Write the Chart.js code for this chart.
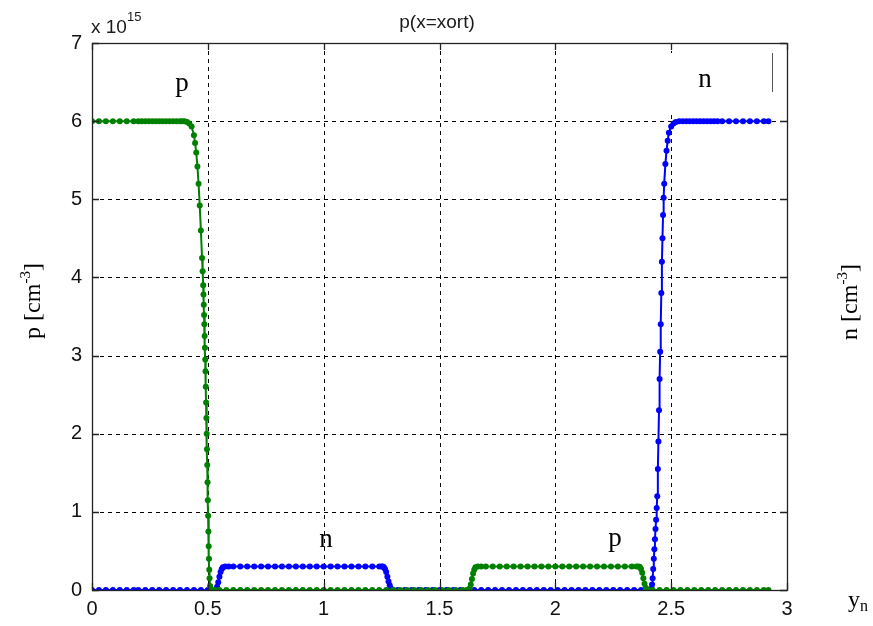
<!DOCTYPE html>
<html>
<head>
<meta charset="utf-8">
<script src="https://cdn.jsdelivr.net/npm/chart.js@4"></script>
<style>
  html, body { margin: 0; padding: 0; background: #ffffff; }
  #c { display: block; }
</style>
</head>
<body>
<canvas id="c" width="873" height="626"></canvas>
<script>
// Tick values for both axes (density axis in units of 1e15 cm^-3)
const xTicks = [0, 0.5, 1, 1.5, 2, 2.5, 3];
const yTicks = [0, 1, 2, 3, 4, 5, 6, 7];

// Hole density p along the cut x = xort: [position, p / 1e15]
const holeProfile = [
  [0, 6.0], [0.03, 6.0], [0.06, 6.0], [0.09, 6.0], [0.12, 6.0], [0.15, 6.0], [0.18, 6.0],
  [0.20, 6.0], [0.215, 6.0], [0.23, 6.0], [0.245, 6.0], [0.26, 6.0], [0.275, 6.0], [0.29, 6.0],
  [0.305, 6.0], [0.32, 6.0], [0.335, 6.0], [0.35, 6.0], [0.365, 6.0], [0.38, 6.0], [0.39, 6.0],
  [0.40, 6.0], [0.41, 5.99], [0.42, 5.97], [0.43, 5.93], [0.44, 5.82], [0.445, 5.72], [0.45, 5.60],
  [0.455, 5.42], [0.46, 5.20], [0.465, 4.92], [0.47, 4.60], [0.475, 4.25], [0.4775, 4.08],
  [0.48, 3.90], [0.4812, 3.78], [0.4825, 3.65], [0.4838, 3.52], [0.485, 3.40], [0.4862, 3.25],
  [0.4875, 3.10], [0.4888, 2.95], [0.49, 2.80], [0.4912, 2.60], [0.4925, 2.40], [0.4938, 2.20],
  [0.495, 2.00], [0.4962, 1.80], [0.4975, 1.60], [0.4988, 1.38], [0.50, 1.15], [0.5012, 0.95],
  [0.5025, 0.75], [0.5038, 0.56], [0.505, 0.40], [0.5062, 0.26], [0.5075, 0.15], [0.51, 0.05],
  [0.515, 0.01], [0.52, 0], [0.53, 0], [0.55, 0], [0.58, 0], [0.61, 0], [0.64, 0], [0.67, 0],
  [0.70, 0], [0.73, 0], [0.76, 0], [0.79, 0], [0.82, 0], [0.85, 0], [0.88, 0], [0.91, 0],
  [0.94, 0], [0.97, 0], [1.00, 0], [1.03, 0], [1.06, 0], [1.09, 0], [1.12, 0], [1.15, 0],
  [1.18, 0], [1.21, 0], [1.24, 0], [1.27, 0], [1.30, 0], [1.33, 0], [1.36, 0], [1.39, 0],
  [1.42, 0], [1.45, 0], [1.48, 0], [1.51, 0], [1.54, 0], [1.57, 0], [1.60, 0], [1.62, 0],
  [1.625, 0], [1.63, 0.02], [1.635, 0.07], [1.64, 0.14], [1.645, 0.21], [1.65, 0.26],
  [1.655, 0.29], [1.665, 0.30], [1.68, 0.30], [1.70, 0.30], [1.73, 0.30], [1.76, 0.30],
  [1.79, 0.30], [1.82, 0.30], [1.85, 0.30], [1.88, 0.30], [1.91, 0.30], [1.94, 0.30],
  [1.97, 0.30], [2.00, 0.30], [2.03, 0.30], [2.06, 0.30], [2.09, 0.30], [2.12, 0.30],
  [2.15, 0.30], [2.18, 0.30], [2.21, 0.30], [2.24, 0.30], [2.27, 0.30], [2.30, 0.30],
  [2.33, 0.30], [2.35, 0.30], [2.36, 0.30], [2.365, 0.295], [2.37, 0.27], [2.375, 0.22],
  [2.38, 0.15], [2.385, 0.08], [2.39, 0.03], [2.395, 0.01], [2.40, 0], [2.42, 0], [2.45, 0],
  [2.48, 0], [2.51, 0], [2.54, 0], [2.57, 0], [2.60, 0], [2.63, 0], [2.66, 0], [2.69, 0],
  [2.72, 0], [2.75, 0], [2.78, 0], [2.81, 0], [2.84, 0], [2.87, 0], [2.90, 0], [2.92, 0]
];

// Electron density n along the same cut: [position, n / 1e15]
const electronProfile = [
  [0, 0], [0.03, 0], [0.06, 0], [0.09, 0], [0.12, 0], [0.15, 0], [0.18, 0], [0.20, 0],
  [0.23, 0], [0.26, 0], [0.29, 0], [0.32, 0], [0.35, 0], [0.38, 0], [0.41, 0], [0.44, 0],
  [0.47, 0], [0.50, 0], [0.52, 0], [0.53, 0], [0.535, 0.01], [0.54, 0.04], [0.545, 0.10],
  [0.55, 0.17], [0.555, 0.23], [0.56, 0.27], [0.565, 0.29], [0.575, 0.30], [0.59, 0.30],
  [0.61, 0.30], [0.64, 0.30], [0.67, 0.30], [0.70, 0.30], [0.73, 0.30], [0.76, 0.30],
  [0.79, 0.30], [0.82, 0.30], [0.85, 0.30], [0.88, 0.30], [0.91, 0.30], [0.94, 0.30],
  [0.97, 0.30], [1.00, 0.30], [1.03, 0.30], [1.06, 0.30], [1.09, 0.30], [1.12, 0.30],
  [1.15, 0.30], [1.18, 0.30], [1.21, 0.30], [1.24, 0.30], [1.25, 0.30], [1.255, 0.30],
  [1.26, 0.29], [1.265, 0.27], [1.27, 0.23], [1.275, 0.17], [1.28, 0.11], [1.285, 0.06],
  [1.29, 0.02], [1.295, 0.005], [1.30, 0], [1.32, 0], [1.35, 0], [1.38, 0], [1.41, 0],
  [1.44, 0], [1.47, 0], [1.50, 0], [1.53, 0], [1.56, 0], [1.59, 0], [1.62, 0], [1.65, 0],
  [1.68, 0], [1.71, 0], [1.74, 0], [1.77, 0], [1.80, 0], [1.83, 0], [1.86, 0], [1.89, 0],
  [1.92, 0], [1.95, 0], [1.98, 0], [2.01, 0], [2.04, 0], [2.07, 0], [2.10, 0], [2.13, 0],
  [2.16, 0], [2.19, 0], [2.22, 0], [2.25, 0], [2.28, 0], [2.31, 0], [2.34, 0], [2.37, 0],
  [2.39, 0], [2.40, 0], [2.41, 0], [2.415, 0.02], [2.4175, 0.07], [2.42, 0.15], [2.4225, 0.27],
  [2.425, 0.40], [2.4275, 0.52], [2.43, 0.65], [2.4325, 0.78], [2.435, 0.90], [2.4375, 1.05],
  [2.44, 1.20], [2.4425, 1.55], [2.445, 1.90], [2.4475, 2.30], [2.45, 2.70], [2.4525, 3.05],
  [2.455, 3.40], [2.4575, 3.80], [2.46, 4.20], [2.4625, 4.50], [2.465, 4.80], [2.4675, 5.02],
  [2.47, 5.20], [2.475, 5.45], [2.48, 5.62], [2.485, 5.75], [2.49, 5.85],
  [2.50, 5.93], [2.51, 5.97], [2.52, 5.99], [2.535, 6.0], [2.55, 6.0], [2.565, 6.0],
  [2.58, 6.0], [2.595, 6.0], [2.61, 6.0], [2.625, 6.0], [2.64, 6.0], [2.655, 6.0],
  [2.67, 6.0], [2.685, 6.0], [2.70, 6.0], [2.72, 6.0], [2.75, 6.0], [2.78, 6.0],
  [2.81, 6.0], [2.84, 6.0], [2.87, 6.0], [2.90, 6.0], [2.92, 6.0]
];

const SANS = '"Liberation Sans", Arial, Helvetica, sans-serif';
const SERIF = '"Liberation Serif", "Times New Roman", serif';

// Draw a run of text pieces (base + super/subscripts) starting at x, baseline y
function drawRuns(ctx, runs, x, y, align) {
  let total = 0;
  runs.forEach(r => { ctx.font = r.font; r.w = ctx.measureText(r.t).width; total += r.w; });
  let cx = align === 'center' ? x - total / 2 : x;
  runs.forEach(r => {
    ctx.font = r.font;
    ctx.textAlign = 'left';
    ctx.textBaseline = 'alphabetic';
    ctx.fillText(r.t, cx, y + (r.dy || 0));
    cx += r.w;
  });
}

const frame = {
  id: 'frame',
  beforeDatasetsDraw(chart) {
    const { ctx, chartArea: a, scales: { x, y } } = chart;
    ctx.save();
    ctx.strokeStyle = '#000';
    ctx.lineWidth = 1;
    ctx.setLineDash([4, 4]);
    xTicks.forEach(v => {
      const px = Math.round(x.getPixelForValue(v)) + 0.5;
      ctx.beginPath(); ctx.moveTo(px, a.top); ctx.lineTo(px, a.bottom); ctx.stroke();
    });
    yTicks.forEach(v => {
      const py = Math.round(y.getPixelForValue(v)) + 0.5;
      ctx.beginPath(); ctx.moveTo(a.left, py); ctx.lineTo(a.right, py); ctx.stroke();
    });
    ctx.setLineDash([]);
    // pasted text box over the upper right corner
    ctx.fillStyle = '#ffffff';
    ctx.fillRect(611, 53, 161, 59);
    ctx.strokeStyle = '#555';
    ctx.beginPath(); ctx.moveTo(772.5, 53); ctx.lineTo(772.5, 92); ctx.stroke();
    ctx.restore();
  },
  afterDatasetsDraw(chart) {
    const { ctx, chartArea: a, scales: { x, y } } = chart;
    ctx.save();
    ctx.strokeStyle = '#222';
    ctx.lineWidth = 1.3;
    const tl = 7;
    ctx.beginPath();
    xTicks.forEach(v => {
      const px = Math.round(x.getPixelForValue(v)) + 0.5;
      ctx.moveTo(px, a.bottom); ctx.lineTo(px, a.bottom - tl);
      ctx.moveTo(px, a.top); ctx.lineTo(px, a.top + tl);
    });
    yTicks.forEach(v => {
      const py = Math.round(y.getPixelForValue(v)) + 0.5;
      ctx.moveTo(a.left, py); ctx.lineTo(a.left + tl, py);
      ctx.moveTo(a.right, py); ctx.lineTo(a.right - tl, py);
    });
    ctx.stroke();
    ctx.strokeRect(Math.round(a.left) + 0.5, Math.round(a.top) + 0.5,
                   Math.round(a.right - a.left), Math.round(a.bottom - a.top));

    ctx.fillStyle = '#1a1a1a';
    // title and exponent
    drawRuns(ctx, [{ t: 'p(x=xort)', font: '19px ' + SANS }], 437, 28, 'center');
    drawRuns(ctx, [
      { t: 'x 10', font: '19px ' + SANS },
      { t: '15', font: '13px ' + SANS, dy: -12 }
    ], 91, 33, 'left');

    // region labels
    ctx.fillStyle = '#000';
    drawRuns(ctx, [{ t: 'p', font: '27px ' + SERIF }], 182, 91, 'center');
    drawRuns(ctx, [{ t: 'n', font: '27px ' + SERIF }], 705, 87, 'center');
    drawRuns(ctx, [{ t: 'n', font: '27px ' + SERIF }], 326, 547, 'center');
    drawRuns(ctx, [{ t: 'p', font: '27px ' + SERIF }], 615, 546, 'center');

    // x-axis label y_n
    drawRuns(ctx, [
      { t: 'y', font: '24px ' + SERIF },
      { t: 'n', font: '16px ' + SERIF, dy: 4 }
    ], 848, 607, 'left');

    // rotated axis titles
    const rotated = (label, cx, cy) => {
      ctx.save();
      ctx.translate(cx, cy);
      ctx.rotate(-Math.PI / 2);
      drawRuns(ctx, [
        { t: label + ' [cm', font: '24px ' + SERIF },
        { t: '-3', font: '15px ' + SERIF, dy: -10 },
        { t: ']', font: '24px ' + SERIF }
      ], 0, 8, 'center');
      ctx.restore();
    };
    rotated('p', 32, 301);
    rotated('n', 849, 302);
    ctx.restore();
  }
};

const toPoints = arr => arr.map(([px, py]) => ({ x: px, y: py }));

const seriesStyle = color => ({
  showLine: true,
  borderColor: color,
  backgroundColor: color,
  borderWidth: 2,
  pointRadius: 3,
  pointBorderWidth: 0,
  pointHoverRadius: 0,
  tension: 0
});

new Chart(document.getElementById('c'), {
  type: 'scatter',
  data: {
    datasets: [
      Object.assign({ label: 'p', data: toPoints(holeProfile) }, seriesStyle('#008000')),
      Object.assign({ label: 'n', data: toPoints(electronProfile) }, seriesStyle('#0000ff'))
    ]
  },
  options: {
    responsive: false,
    animation: false,
    events: [],
    layout: { padding: { top: 43, right: 86, bottom: 0, left: 0 } },
    plugins: { legend: { display: false }, tooltip: { enabled: false }, title: { display: false } },
    scales: {
      x: {
        type: 'linear',
        min: 0,
        max: 3,
        afterBuildTicks: s => { s.ticks = xTicks.map(v => ({ value: v })); },
        afterFit: s => { s.height = 36; },
        ticks: {
          font: { family: SANS, size: 20 },
          color: '#111',
          padding: 7,
          maxRotation: 0,
          autoSkip: false,
          callback: v => String(v)
        },
        grid: { display: false, drawTicks: false },
        border: { display: false }
      },
      y: {
        type: 'linear',
        min: 0,
        max: 7,
        afterBuildTicks: s => { s.ticks = yTicks.map(v => ({ value: v })); },
        afterFit: s => { s.width = 92; },
        ticks: {
          font: { family: SANS, size: 20 },
          color: '#111',
          padding: 10,
          autoSkip: false,
          callback: v => String(v)
        },
        grid: { display: false, drawTicks: false },
        border: { display: false }
      }
    }
  },
  plugins: [frame]
});
</script>
</body>
</html>
